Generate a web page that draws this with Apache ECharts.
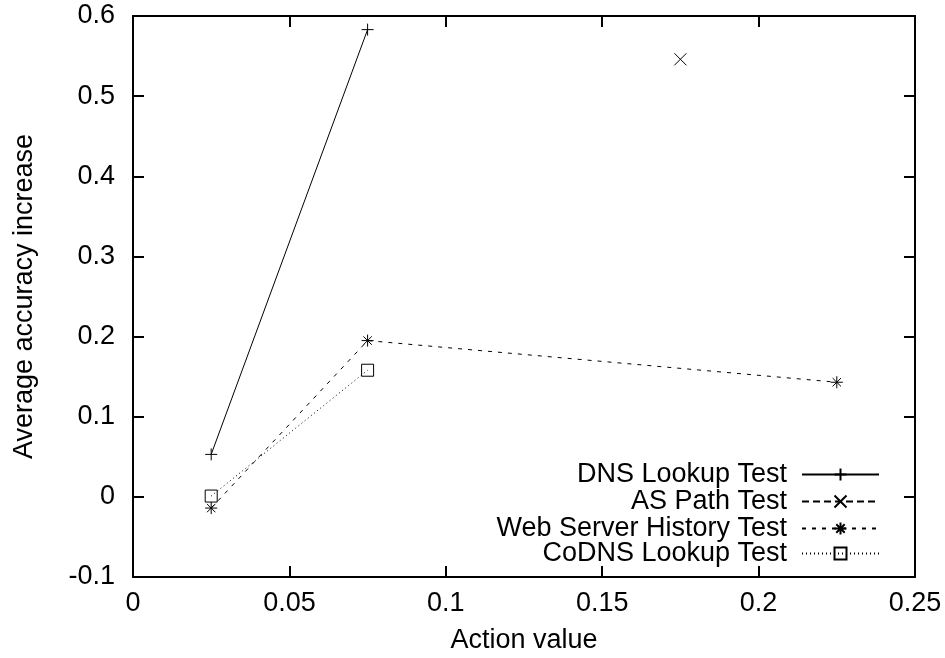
<!DOCTYPE html>
<html>
<head>
<meta charset="utf-8">
<script src="https://cdn.jsdelivr.net/npm/echarts@6/dist/echarts.min.js"></script>
<style>
  html, body { margin: 0; padding: 0; background: #fff; }
  #chart { width: 945px; height: 658px; }
</style>
</head>
<body>
<div id="chart"></div>
<script>
// data
const seriesNames = ['DNS Lookup Test', 'AS Path Test', 'Web Server History Test', 'CoDNS Lookup Test'];
const dnsX = [0.025, 0.075];
const dnsY = [0.053, 0.583];
const asPathX = [0.175];
const asPathY = [0.546];
const webHistX = [0.025, 0.075, 0.225];
const webHistY = [-0.014, 0.195, 0.143];
const codnsX = [0.025, 0.075];
const codnsY = [0.001, 0.158];

const xTicks = [0, 0.05, 0.1, 0.15, 0.2, 0.25];
const yTicks = [-0.1, 0, 0.1, 0.2, 0.3, 0.4, 0.5, 0.6];

// gnuplot style point shapes
const plusPath = 'path://M0,-1V1M-1,0H1';
const crossPath = 'path://M-1,-1L1,1M-1,1L1,-1';
const starPath = 'path://M0,-1V1M-1,0H1M-0.7,-0.7L0.7,0.7M-0.7,0.7L0.7,-0.7';
const boxPath = 'path://M-1,-1H1V1H-1Z';

const pairs = (xs, ys) => xs.map((x, i) => [x, ys[i]]);

const font = 'Liberation Sans, Arial, Helvetica, sans-serif';
const fs = 27;

function mkSeries(name, data, symbol, dash) {
  return {
    name: name,
    type: 'line',
    data: data,
    symbol: symbol,
    symbolSize: 12,
    showSymbol: true,
    animation: false,
    itemStyle: { color: 'rgba(0,0,0,0)', borderColor: '#000', borderWidth: 1 },
    lineStyle: { color: '#000', width: 1, type: dash },
    emphasis: { disabled: true },
  };
}

function mkAxisX(pos, show) {
  return {
    type: 'value', position: pos,
    min: xTicks[0], max: xTicks[xTicks.length - 1], interval: 0.05,
    axisLine: { show: true, onZero: false, lineStyle: { color: '#000', width: 2 } },
    axisTick: { show: true, inside: true, length: 11, lineStyle: { color: '#000', width: 2 } },
    axisLabel: { show: show, color: '#000', fontSize: fs, fontFamily: font, margin: 13 },
    splitLine: { show: false },
  };
}
function mkAxisY(pos, show) {
  return {
    type: 'value', position: pos,
    min: yTicks[0], max: yTicks[yTicks.length - 1], interval: 0.1,
    axisLine: { show: true, onZero: false, lineStyle: { color: '#000', width: 2 } },
    axisTick: { show: true, inside: true, length: 11, lineStyle: { color: '#000', width: 2 } },
    axisLabel: { show: show, color: '#000', fontSize: fs, fontFamily: font, margin: 18 },
    splitLine: { show: false },
  };
}

const legendTops = [461, 488, 515, 540];
const legends = seriesNames.map((n, i) => ({
  data: [n],
  orient: 'vertical',
  right: 65,
  top: legendTops[i],
  padding: 0,
  align: 'right',
  itemWidth: 77,
  itemHeight: 15,
  selectedMode: false,
  textStyle: { color: '#000', fontSize: fs, fontFamily: font, padding: [0, 10, 0, 0] },
}));

const xBottom = mkAxisX('bottom', true);
xBottom.name = 'Action value';
xBottom.nameLocation = 'middle';
xBottom.nameGap = 50;
xBottom.nameTextStyle = { color: '#000', fontSize: fs, fontFamily: font };

const yLeft = mkAxisY('left', true);
yLeft.name = 'Average accuracy increase';
yLeft.nameLocation = 'middle';
yLeft.nameGap = 95;
yLeft.nameTextStyle = { color: '#000', fontSize: fs, fontFamily: font };

const chart = echarts.init(document.getElementById('chart'), null, { renderer: 'canvas' });
chart.setOption({
  backgroundColor: '#fff',
  animation: false,
  grid: { left: 133, right: 30, top: 16, bottom: 81, containLabel: false, outerBoundsMode: 'none' },
  legend: legends,
  xAxis: [xBottom, mkAxisX('top', false)],
  yAxis: [yLeft, mkAxisY('right', false)],
  series: [
    mkSeries(seriesNames[0], pairs(dnsX, dnsY), plusPath, 'solid'),
    mkSeries(seriesNames[1], pairs(asPathX, asPathY), crossPath, [7, 4]),
    mkSeries(seriesNames[2], pairs(webHistX, webHistY), starPath, [4, 6]),
    mkSeries(seriesNames[3], pairs(codnsX, codnsY), boxPath, [1, 3]),
  ],
});
</script>
</body>
</html>
